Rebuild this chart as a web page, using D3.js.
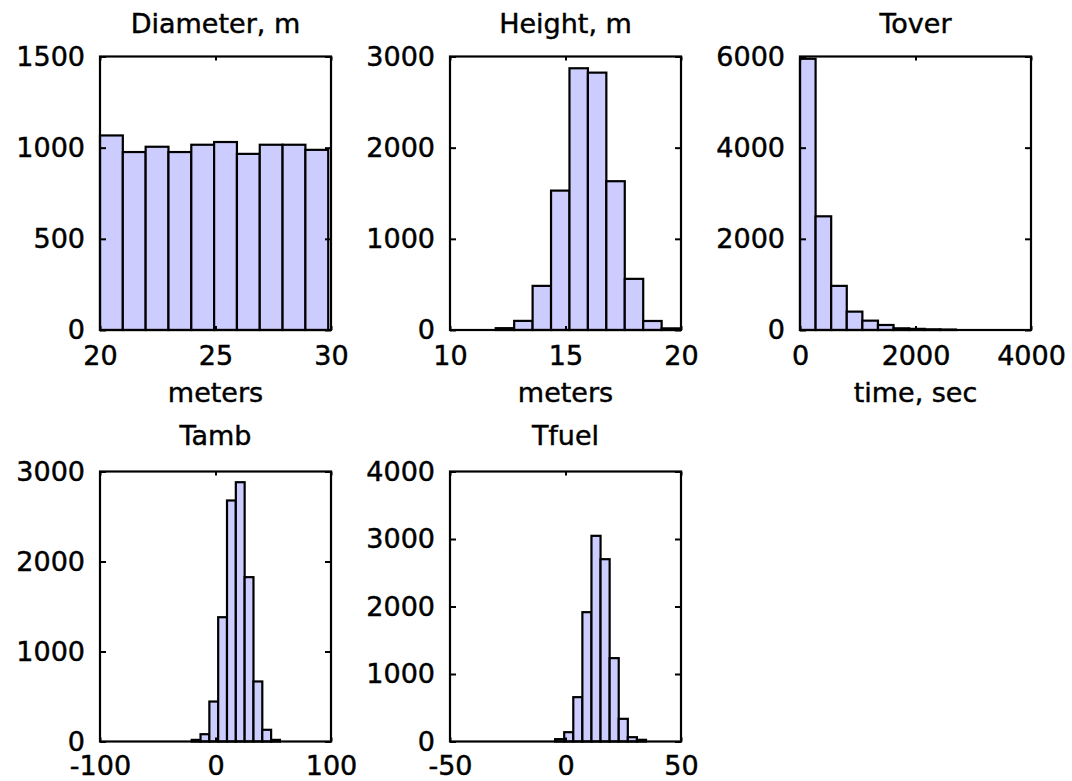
<!DOCTYPE html>
<html>
<head>
<meta charset="utf-8">
<script src="https://cdn.jsdelivr.net/npm/d3@7"></script>
<style>
  html, body { margin: 0; padding: 0; background: #fff; }
  svg text { font-family: "DejaVu Sans", sans-serif; font-size: 27px; fill: #000; stroke: #000; stroke-width: 0.45px; }
</style>
</head>
<body>
<svg id="chart" width="1072" height="781"></svg>
<script>
// ---- data ----
const titles = ["Diameter, m", "Height, m", "Tover", "Tamb", "Tfuel"];
const xAxisLabels = ["meters", "meters", "time, sec", "", ""];

const diameterCounts = [1067, 976, 1005, 976, 1016, 1031, 966, 1016, 1016, 988];
const diameterRange = [20.0, 29.88];
const heightCounts = [20, 100, 484, 1529, 2871, 2823, 1632, 561, 99, 18];
const heightRange = [11.98, 19.96];
const toverCounts = [5950, 2494, 968, 403, 205, 110, 37, 25, 15, 10];
const toverRange = [0, 2700];
const tambCounts = [18, 81, 444, 1381, 2678, 2881, 1826, 667, 130, 18];
const tambRange = [-20.6, 55.8];
const tfuelCounts = [35, 138, 657, 1916, 3047, 2701, 1235, 336, 64, 25];
const tfuelRange = [-4.5, 34.85];

const xDomains = [[20, 30], [10, 20], [0, 4000], [-100, 100], [-50, 50]];
const yDomains = [[0, 1500], [0, 3000], [0, 6000], [0, 3000], [0, 4000]];
const xTicks = [[20, 25, 30], [10, 15, 20], [0, 2000, 4000], [-100, 0, 100], [-50, 0, 50]];
const yTicks = [[0, 500, 1000, 1500], [0, 1000, 2000, 3000], [0, 2000, 4000, 6000],
                [0, 1000, 2000, 3000], [0, 1000, 2000, 3000, 4000]];

const countsList = [diameterCounts, heightCounts, toverCounts, tambCounts, tfuelCounts];
const rangesList = [diameterRange, heightRange, toverRange, tambRange, tfuelRange];

// ---- layout ----
const colX = [100, 450, 800];
const boxW = 231;
const rows = [
  { top: 56.5, bottom: 330, titleY: 33, xlabelY: 402, xPad: 16 },
  { top: 471.5, bottom: 741.5, titleY: 445, xlabelY: 815, xPad: 14 }
];
const svg = d3.select("#chart");
const fmt = d => String(d); // plain hyphen minus like the reference

titles.forEach((title, i) => {
  const row = rows[Math.floor(i / 3)];
  const x0 = colX[i % 3];
  const x = d3.scaleLinear().domain(xDomains[i]).range([x0, x0 + boxW]);
  const y = d3.scaleLinear().domain(yDomains[i]).range([row.bottom, row.top]);
  const g = svg.append("g");

  const counts = countsList[i];
  const [lo, hi] = rangesList[i];
  const w = (hi - lo) / counts.length;
  const bins = counts.map((c, k) => ({ x0: lo + k * w, x1: lo + (k + 1) * w, c }));

  g.append("g").selectAll("rect").data(bins).join("rect")
    .attr("x", d => x(d.x0))
    .attr("width", d => x(d.x1) - x(d.x0))
    .attr("y", d => y(d.c))
    .attr("height", d => y(0) - y(d.c))
    .attr("fill", "#ccccff")
    .attr("stroke", "#000")
    .attr("stroke-width", 2.2);

  // axes with inward ticks
  const left = g.append("g").attr("transform", `translate(${x0},0)`)
    .call(d3.axisLeft(y).tickValues(yTicks[i]).tickFormat(fmt).tickSizeInner(-6).tickSizeOuter(0).tickPadding(15));
  const right = g.append("g").attr("transform", `translate(${x0 + boxW},0)`)
    .call(d3.axisRight(y).tickValues(yTicks[i]).tickFormat("").tickSizeInner(-6).tickSizeOuter(0));
  const bottom = g.append("g").attr("transform", `translate(0,${row.bottom})`)
    .call(d3.axisBottom(x).tickValues(xTicks[i]).tickFormat(fmt).tickSizeInner(-4).tickSizeOuter(0).tickPadding(row.xPad));
  const top = g.append("g").attr("transform", `translate(0,${row.top})`)
    .call(d3.axisTop(x).tickValues(xTicks[i]).tickFormat("").tickSizeInner(-4).tickSizeOuter(0));
  [left, right, bottom, top].forEach(a => {
    a.select(".domain").remove();
    a.attr("font-family", null).attr("font-size", null);
    a.selectAll("line").attr("stroke", "#000").attr("stroke-width", 2);
    a.selectAll("text").attr("fill", "#000");
  });

  g.append("rect")
    .attr("x", x0).attr("y", row.top)
    .attr("width", boxW).attr("height", row.bottom - row.top)
    .attr("fill", "none").attr("stroke", "#000").attr("stroke-width", 2.2);

  g.append("text").attr("x", x0 + boxW / 2).attr("y", row.titleY)
    .attr("text-anchor", "middle").text(title);
  if (xAxisLabels[i]) {
    g.append("text").attr("x", x0 + boxW / 2).attr("y", row.xlabelY)
      .attr("text-anchor", "middle").text(xAxisLabels[i]);
  }
});
</script>
</body>
</html>
